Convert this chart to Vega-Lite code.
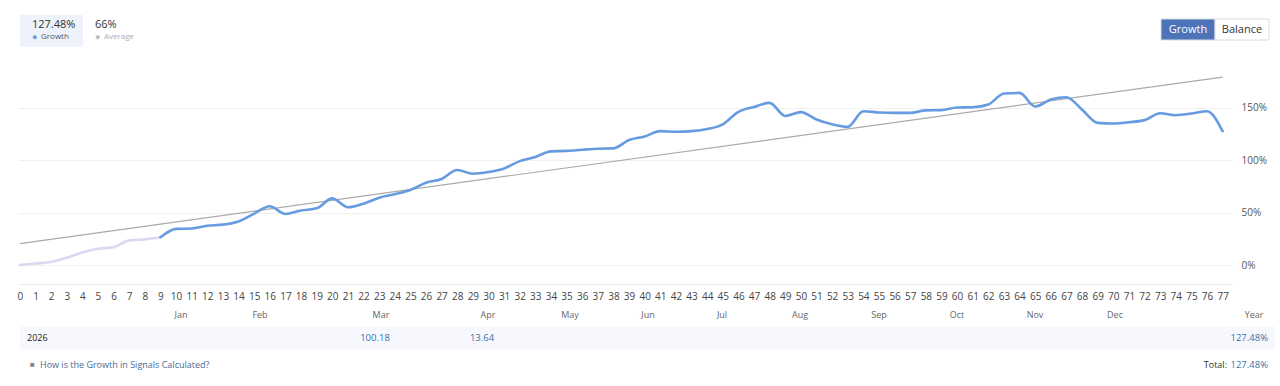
{
  "$schema": "https://vega.github.io/schema/vega-lite/v6.json",
  "width": 1214,
  "height": 229,
  "autosize": {"type": "none"},
  "padding": {"left": 18, "top": 55, "right": 48, "bottom": 102},
  "background": "#ffffff",
  "config": {"font": "Open Sans", "view": {"stroke": null}, "axisX": {"labelOverlap": false, "labelSeparation": 0}},
  "datasets": {
    "growth": [
      {"i": 0, "v": 0, "seg": "pre"}, {"i": 1, "v": 1.5, "seg": "pre"}, {"i": 2, "v": 3, "seg": "pre"},
      {"i": 3, "v": 7, "seg": "pre"}, {"i": 4, "v": 12, "seg": "pre"}, {"i": 5, "v": 15.5, "seg": "pre"},
      {"i": 6, "v": 17, "seg": "pre"}, {"i": 7, "v": 23.5, "seg": "pre"}, {"i": 8, "v": 24.5, "seg": "pre"},
      {"i": 9, "v": 26.5, "seg": "pre"},
      {"i": 9, "v": 26.5, "seg": "main"}, {"i": 10, "v": 34.5, "seg": "main"}, {"i": 11, "v": 34.8, "seg": "main"},
      {"i": 12, "v": 37.5, "seg": "main"}, {"i": 13, "v": 38.5, "seg": "main"}, {"i": 14, "v": 41.5, "seg": "main"},
      {"i": 15, "v": 49, "seg": "main"}, {"i": 16, "v": 56, "seg": "main"}, {"i": 17, "v": 48.7, "seg": "main"},
      {"i": 18, "v": 52, "seg": "main"}, {"i": 19, "v": 54, "seg": "main"}, {"i": 20, "v": 63.5, "seg": "main"},
      {"i": 21, "v": 55, "seg": "main"}, {"i": 22, "v": 58.5, "seg": "main"}, {"i": 23, "v": 64.2, "seg": "main"},
      {"i": 24, "v": 67.5, "seg": "main"}, {"i": 25, "v": 71.5, "seg": "main"}, {"i": 26, "v": 78.4, "seg": "main"},
      {"i": 27, "v": 82, "seg": "main"}, {"i": 28, "v": 90.5, "seg": "main"}, {"i": 29, "v": 87, "seg": "main"},
      {"i": 30, "v": 88.6, "seg": "main"}, {"i": 31, "v": 92, "seg": "main"}, {"i": 32, "v": 99, "seg": "main"},
      {"i": 33, "v": 103, "seg": "main"}, {"i": 34, "v": 108.3, "seg": "main"}, {"i": 35, "v": 108.7, "seg": "main"},
      {"i": 36, "v": 109.8, "seg": "main"}, {"i": 37, "v": 110.8, "seg": "main"}, {"i": 38, "v": 111.1, "seg": "main"},
      {"i": 39, "v": 119, "seg": "main"}, {"i": 40, "v": 122.5, "seg": "main"}, {"i": 41, "v": 127.5, "seg": "main"},
      {"i": 42, "v": 126.9, "seg": "main"}, {"i": 43, "v": 127.5, "seg": "main"}, {"i": 44, "v": 129.5, "seg": "main"},
      {"i": 45, "v": 134, "seg": "main"}, {"i": 46, "v": 145.9, "seg": "main"}, {"i": 47, "v": 150.6, "seg": "main"},
      {"i": 48, "v": 154.4, "seg": "main"}, {"i": 49, "v": 142, "seg": "main"}, {"i": 50, "v": 145.6, "seg": "main"},
      {"i": 51, "v": 138.6, "seg": "main"}, {"i": 52, "v": 134, "seg": "main"}, {"i": 53, "v": 131.6, "seg": "main"},
      {"i": 54, "v": 146.5, "seg": "main"}, {"i": 55, "v": 145.3, "seg": "main"}, {"i": 56, "v": 144.9, "seg": "main"},
      {"i": 57, "v": 144.9, "seg": "main"}, {"i": 58, "v": 147.3, "seg": "main"}, {"i": 59, "v": 147.5, "seg": "main"},
      {"i": 60, "v": 150, "seg": "main"}, {"i": 61, "v": 150.3, "seg": "main"}, {"i": 62, "v": 152.9, "seg": "main"},
      {"i": 63, "v": 163.3, "seg": "main"}, {"i": 64, "v": 163.9, "seg": "main"}, {"i": 65, "v": 151, "seg": "main"},
      {"i": 66, "v": 157.6, "seg": "main"}, {"i": 67, "v": 159.8, "seg": "main"}, {"i": 68, "v": 148, "seg": "main"},
      {"i": 69, "v": 135.4, "seg": "main"}, {"i": 70, "v": 134.8, "seg": "main"}, {"i": 71, "v": 136, "seg": "main"},
      {"i": 72, "v": 138, "seg": "main"}, {"i": 73, "v": 144.6, "seg": "main"}, {"i": 74, "v": 142.7, "seg": "main"},
      {"i": 75, "v": 144.3, "seg": "main"}, {"i": 76, "v": 146.5, "seg": "main"}, {"i": 77, "v": 127.48, "seg": "main"}
    ],
    "average": [{"i": 0, "avg": 20.5}, {"i": 77, "avg": 179}],
    "legend": [
      {"series": "Growth", "value": "127.48%", "section": "legend"},
      {"series": "Average", "value": "66%", "section": "legend"}
    ],
    "buttons": [
      {"button": "Growth", "active": true, "section": "toggle"},
      {"button": "Balance", "active": false, "section": "toggle"}
    ],
    "months": [
      {"month": "Jan", "col": 1, "kind": "header"}, {"month": "Feb", "col": 2, "kind": "header"},
      {"month": "Mar", "col": 3, "kind": "header"}, {"month": "Apr", "col": 4, "kind": "header"},
      {"month": "May", "col": 5, "kind": "header"}, {"month": "Jun", "col": 6, "kind": "header"},
      {"month": "Jul", "col": 7, "kind": "header"}, {"month": "Aug", "col": 8, "kind": "header"},
      {"month": "Sep", "col": 9, "kind": "header"}, {"month": "Oct", "col": 10, "kind": "header"},
      {"month": "Nov", "col": 11, "kind": "header"}, {"month": "Dec", "col": 12, "kind": "header"},
      {"month": "Year", "col": 13, "kind": "header"}
    ],
    "results": [
      {"year": "2026", "month": "Mar", "col": 3, "value": "100.18"},
      {"year": "2026", "month": "Apr", "col": 4, "value": "13.64"}
    ],
    "yearTotals": [{"year": "2026", "value": "127.48%"}],
    "footer": [{"section": "footer", "link": "How is the Growth in Signals Calculated?", "label": "Total:", "total": "127.48%"}]
  },
  "layer": [
    {
      "layer": [
        {
          "data": {"name": "average"},
          "mark": {"type": "line", "color": "#aaaaaa", "strokeWidth": 1.2},
          "encoding": {
            "x": {
              "field": "i", "type": "quantitative",
              "scale": {"domain": [-0.12, 77.6], "nice": false, "zero": false},
              "axis": {
                "values": [0,1,2,3,4,5,6,7,8,9,10,11,12,13,14,15,16,17,18,19,20,21,22,23,24,25,26,27,28,29,30,31,32,33,34,35,36,37,38,39,40,41,42,43,44,45,46,47,48,49,50,51,52,53,54,55,56,57,58,59,60,61,62,63,64,65,66,67,68,69,70,71,72,73,74,75,76,77],
                "tickCount": 78,
                "format": "d", "labelAngle": 0, "ticks": false, "domain": true, "domainColor": "#eeeeee",
                "labelPadding": 7, "labelFontSize": 10, "labelColor": "#444444", "grid": false, "title": null,
                "labelOverlap": false, "labelSeparation": 0, "labelFlush": false, "labelBound": false
              }
            },
            "y": {
              "field": "avg", "type": "quantitative",
              "scale": {"domain": [-18, 200], "nice": false, "zero": false},
              "axis": {
                "orient": "right", "values": [0, 50, 100, 150], "labelExpr": "datum.value + '%'",
                "grid": true, "gridColor": "#f0f0f0", "domain": false, "ticks": false,
                "labelPadding": 9, "labelFontSize": 10, "labelColor": "#555555", "title": null
              }
            }
          }
        },
        {
          "data": {"name": "growth"},
          "mark": {"type": "line", "interpolate": "monotone", "strokeWidth": 2.6, "strokeCap": "round", "strokeJoin": "round"},
          "encoding": {
            "x": {
              "field": "i", "type": "quantitative",
              "axis": {
                "values": [0,1,2,3,4,5,6,7,8,9,10,11,12,13,14,15,16,17,18,19,20,21,22,23,24,25,26,27,28,29,30,31,32,33,34,35,36,37,38,39,40,41,42,43,44,45,46,47,48,49,50,51,52,53,54,55,56,57,58,59,60,61,62,63,64,65,66,67,68,69,70,71,72,73,74,75,76,77],
                "tickCount": 78,
                "format": "d", "labelAngle": 0, "ticks": false, "domain": true, "domainColor": "#eeeeee",
                "labelPadding": 7, "labelFontSize": 10, "labelColor": "#444444", "grid": false, "title": null,
                "labelOverlap": false, "labelSeparation": 0, "labelFlush": false, "labelBound": false
              }
            },
            "y": {"field": "v", "type": "quantitative"},
            "color": {"field": "seg", "type": "nominal", "scale": {"domain": ["pre", "main"], "range": ["#d9d9f0", "#679be0"]}, "legend": null}
          }
        }
      ]
    },
    {
      "data": {"name": "legend"},
      "transform": [{"filter": "datum.series === 'Growth'"}],
      "mark": {"type": "rect", "fill": "#eef2fa"},
      "encoding": {
        "x": {"field": "series", "type": "nominal", "scale": {"type": "band", "domain": ["Growth", "Average"], "range": [2, 128], "paddingInner": 0, "paddingOuter": 0}, "axis": null},
        "y": {"field": "section", "type": "nominal", "scale": {"type": "band", "domain": ["legend"], "range": [-40, -8], "paddingInner": 0, "paddingOuter": 0}, "axis": null}
      }
    },
    {
      "data": {"name": "legend"},
      "mark": {"type": "text", "align": "left", "baseline": "middle", "dx": 12, "dy": -6, "fontSize": 11, "color": "#333333"},
      "encoding": {
        "x": {"field": "series", "type": "nominal", "bandPosition": 0, "scale": {"type": "band", "domain": ["Growth", "Average"], "range": [2, 128], "paddingInner": 0, "paddingOuter": 0}, "axis": null},
        "y": {"field": "section", "type": "nominal", "scale": {"type": "band", "domain": ["legend"], "range": [-40, -8], "paddingInner": 0, "paddingOuter": 0}, "axis": null},
        "text": {"field": "value"}
      }
    },
    {
      "data": {"name": "legend"},
      "mark": {"type": "text", "align": "left", "baseline": "middle", "dx": 12, "dy": 6, "fontSize": 9},
      "encoding": {
        "x": {"field": "series", "type": "nominal", "bandPosition": 0, "scale": {"type": "band", "domain": ["Growth", "Average"], "range": [2, 128], "paddingInner": 0, "paddingOuter": 0}, "axis": null},
        "y": {"field": "section", "type": "nominal", "scale": {"type": "band", "domain": ["legend"], "range": [-40, -8], "paddingInner": 0, "paddingOuter": 0}, "axis": null},
        "text": {"value": "●"},
        "color": {"condition": {"test": "datum.series === 'Growth'", "value": "#679be0"}, "value": "#bbbbbb"}
      }
    },
    {
      "data": {"name": "legend"},
      "mark": {"type": "text", "align": "left", "baseline": "middle", "dx": 21, "dy": 6, "fontSize": 8},
      "encoding": {
        "x": {"field": "series", "type": "nominal", "bandPosition": 0, "scale": {"type": "band", "domain": ["Growth", "Average"], "range": [2, 128], "paddingInner": 0, "paddingOuter": 0}, "axis": null},
        "y": {"field": "section", "type": "nominal", "scale": {"type": "band", "domain": ["legend"], "range": [-40, -8], "paddingInner": 0, "paddingOuter": 0}, "axis": null},
        "text": {"field": "series"},
        "color": {"condition": {"test": "datum.series === 'Growth'", "value": "#555555"}, "value": "#aaaaaa"}
      }
    },
    {
      "data": {"name": "buttons"},
      "mark": {"type": "rect", "stroke": "#d8dce4", "strokeWidth": 1},
      "encoding": {
        "x": {"field": "button", "type": "nominal", "scale": {"type": "band", "domain": ["Growth", "Balance"], "range": [1143, 1251], "paddingInner": 0, "paddingOuter": 0}, "axis": null},
        "y": {"field": "section", "type": "nominal", "scale": {"type": "band", "domain": ["toggle"], "range": [-36, -15], "paddingInner": 0, "paddingOuter": 0}, "axis": null},
        "fill": {"condition": {"test": "datum.active", "value": "#4d74b8"}, "value": "#ffffff"}
      }
    },
    {
      "data": {"name": "buttons"},
      "mark": {"type": "text", "align": "center", "baseline": "middle", "fontSize": 11},
      "encoding": {
        "x": {"field": "button", "type": "nominal", "scale": {"type": "band", "domain": ["Growth", "Balance"], "range": [1143, 1251], "paddingInner": 0, "paddingOuter": 0}, "axis": null},
        "y": {"field": "section", "type": "nominal", "scale": {"type": "band", "domain": ["toggle"], "range": [-36, -15], "paddingInner": 0, "paddingOuter": 0}, "axis": null},
        "text": {"field": "button"},
        "color": {"condition": {"test": "datum.active", "value": "#ffffff"}, "value": "#333333"}
      }
    },
    {
      "data": {"name": "yearTotals"},
      "mark": {"type": "rect", "fill": "#f7f8fd"},
      "encoding": {
        "x": {"field": "year", "type": "nominal", "scale": {"type": "band", "domain": ["2026"], "range": [2, 1257], "paddingInner": 0, "paddingOuter": 0}, "axis": null},
        "y": {"field": "year", "type": "nominal", "scale": {"type": "band", "domain": ["2026"], "range": [271.5, 295], "paddingInner": 0, "paddingOuter": 0}, "axis": null}
      }
    },
    {
      "data": {"name": "months"},
      "mark": {"type": "text", "align": "center", "baseline": "middle", "fontSize": 9, "color": "#666666"},
      "encoding": {
        "x": {"field": "col", "type": "quantitative", "scale": {"type": "linear", "domain": [1,2,3,4,5,6,7,8,9,10,11,12,13], "range": [163,242,363,470,552,630,704,782,861,939,1017,1097,1236], "nice": false, "zero": false}, "axis": null},
        "y": {"field": "kind", "type": "nominal", "scale": {"type": "band", "domain": ["header"], "range": [248, 271], "paddingInner": 0, "paddingOuter": 0}, "axis": null},
        "text": {"field": "month"}
      }
    },
    {
      "data": {"name": "yearTotals"},
      "mark": {"type": "text", "align": "left", "baseline": "middle", "dx": 7, "fontSize": 9, "color": "#222222"},
      "encoding": {
        "x": {"field": "year", "type": "nominal", "bandPosition": 0, "scale": {"type": "band", "domain": ["2026"], "range": [2, 1257], "paddingInner": 0, "paddingOuter": 0}, "axis": null},
        "y": {"field": "year", "type": "nominal", "scale": {"type": "band", "domain": ["2026"], "range": [271.5, 295], "paddingInner": 0, "paddingOuter": 0}, "axis": null},
        "text": {"field": "year"}
      }
    },
    {
      "data": {"name": "yearTotals"},
      "mark": {"type": "text", "align": "right", "baseline": "middle", "dx": -7, "fontSize": 9.5, "color": "#3d6fa8"},
      "encoding": {
        "x": {"field": "year", "type": "nominal", "bandPosition": 1, "scale": {"type": "band", "domain": ["2026"], "range": [2, 1257], "paddingInner": 0, "paddingOuter": 0}, "axis": null},
        "y": {"field": "year", "type": "nominal", "scale": {"type": "band", "domain": ["2026"], "range": [271.5, 295], "paddingInner": 0, "paddingOuter": 0}, "axis": null},
        "text": {"field": "value"}
      }
    },
    {
      "data": {"name": "results"},
      "mark": {"type": "text", "align": "center", "baseline": "middle", "dx": -6, "fontSize": 9.5, "color": "#3d6fa8"},
      "encoding": {
        "x": {"field": "col", "type": "quantitative", "scale": {"type": "linear", "domain": [1,2,3,4,5,6,7,8,9,10,11,12,13], "range": [163,242,363,470,552,630,704,782,861,939,1017,1097,1236], "nice": false, "zero": false}, "axis": null},
        "y": {"field": "year", "type": "nominal", "scale": {"type": "band", "domain": ["2026"], "range": [271.5, 295], "paddingInner": 0, "paddingOuter": 0}, "axis": null},
        "text": {"field": "value"}
      }
    },
    {
      "data": {"name": "footer"},
      "mark": {"type": "text", "align": "left", "baseline": "middle", "dx": 10, "fontSize": 8, "color": "#888888"},
      "encoding": {
        "x": {"field": "section", "type": "nominal", "bandPosition": 0, "scale": {"type": "band", "domain": ["footer"], "range": [2, 1257], "paddingInner": 0, "paddingOuter": 0}, "axis": null},
        "y": {"field": "section", "type": "nominal", "scale": {"type": "band", "domain": ["footer"], "range": [299, 321], "paddingInner": 0, "paddingOuter": 0}, "axis": null},
        "text": {"value": "■"}
      }
    },
    {
      "data": {"name": "footer"},
      "mark": {"type": "text", "align": "left", "baseline": "middle", "dx": 20, "fontSize": 9, "color": "#4a6b96"},
      "encoding": {
        "x": {"field": "section", "type": "nominal", "bandPosition": 0, "scale": {"type": "band", "domain": ["footer"], "range": [2, 1257], "paddingInner": 0, "paddingOuter": 0}, "axis": null},
        "y": {"field": "section", "type": "nominal", "scale": {"type": "band", "domain": ["footer"], "range": [299, 321], "paddingInner": 0, "paddingOuter": 0}, "axis": null},
        "text": {"field": "link"}
      }
    },
    {
      "data": {"name": "footer"},
      "mark": {"type": "text", "align": "right", "baseline": "middle", "dx": -48, "fontSize": 9, "color": "#333333"},
      "encoding": {
        "x": {"field": "section", "type": "nominal", "bandPosition": 1, "scale": {"type": "band", "domain": ["footer"], "range": [2, 1257], "paddingInner": 0, "paddingOuter": 0}, "axis": null},
        "y": {"field": "section", "type": "nominal", "scale": {"type": "band", "domain": ["footer"], "range": [299, 321], "paddingInner": 0, "paddingOuter": 0}, "axis": null},
        "text": {"field": "label"}
      }
    },
    {
      "data": {"name": "footer"},
      "mark": {"type": "text", "align": "right", "baseline": "middle", "dx": -7, "fontSize": 9.5, "color": "#3d6fa8"},
      "encoding": {
        "x": {"field": "section", "type": "nominal", "bandPosition": 1, "scale": {"type": "band", "domain": ["footer"], "range": [2, 1257], "paddingInner": 0, "paddingOuter": 0}, "axis": null},
        "y": {"field": "section", "type": "nominal", "scale": {"type": "band", "domain": ["footer"], "range": [299, 321], "paddingInner": 0, "paddingOuter": 0}, "axis": null},
        "text": {"field": "total"}
      }
    }
  ],
  "resolve": {
    "scale": {"x": "independent", "y": "independent", "color": "independent"},
    "axis": {"x": "independent", "y": "independent"}
  }
}
